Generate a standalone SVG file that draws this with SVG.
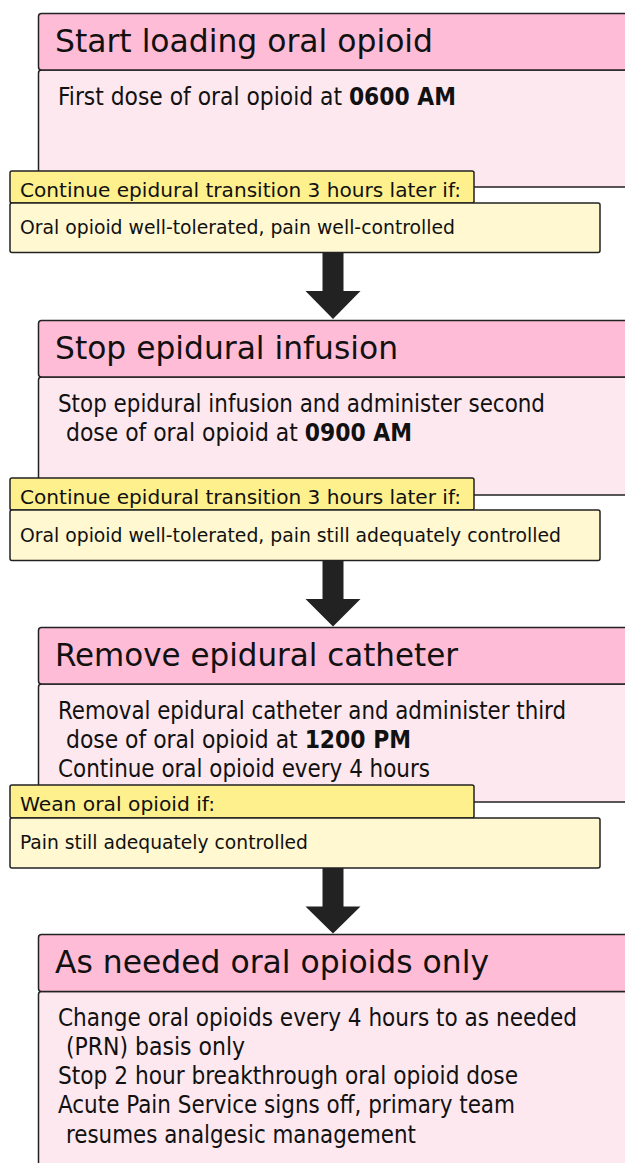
<svg xmlns="http://www.w3.org/2000/svg" width="625" height="1163" viewBox="0 0 625 1163">
<style>
text{font-family:'DejaVu Sans Condensed','DejaVu Sans',sans-serif;font-stretch:condensed;fill:#111}
.hd{fill:#FEBCD6;stroke:#222;stroke-width:1.5}
.bd{fill:#FDE8EF;stroke:#222;stroke-width:1.5}
.yl{fill:#FFF08E;stroke:#222;stroke-width:1.5}
.yb{fill:#FFF8D0;stroke:#222;stroke-width:1.5}
.ht{font-size:32px}
.bt{font-size:25px}
.yt{font-size:19.5px}
.b{font-weight:bold}
.arr{fill:#222}
</style>
<g id="step1">
<rect class="bd" x="38.5" y="70" width="620" height="117" rx="3"/>
<rect class="hd" x="38.5" y="13.5" width="620" height="56.5" rx="3"/>
<text class="ht" x="55" y="52" textLength="378" lengthAdjust="spacingAndGlyphs">Start loading oral opioid</text>
<text class="bt" x="58" y="104.5" textLength="398" lengthAdjust="spacingAndGlyphs">First dose of oral opioid at <tspan class="b">0600 AM</tspan></text>
</g>
<g id="cond1">
<rect class="yl" x="10" y="171" width="464" height="32" rx="2"/>
<rect class="yb" x="10" y="203" width="590" height="49.5" rx="2"/>
<text class="yt" x="20" y="196.5" textLength="441" lengthAdjust="spacingAndGlyphs">Continue epidural transition 3 hours later if:</text>
<text class="yt" x="20" y="234.3" textLength="435" lengthAdjust="spacingAndGlyphs">Oral opioid well-tolerated, pain well-controlled</text>
</g>
<g id="step2">
<rect class="bd" x="38.5" y="377" width="620" height="118" rx="3"/>
<rect class="hd" x="38.5" y="320.5" width="620" height="56.5" rx="3"/>
<text class="ht" x="55" y="359" textLength="343" lengthAdjust="spacingAndGlyphs">Stop epidural infusion</text>
<text class="bt" x="58" y="411.5" textLength="487" lengthAdjust="spacingAndGlyphs">Stop epidural infusion and administer second</text>
<text class="bt" x="66" y="440.5" textLength="346" lengthAdjust="spacingAndGlyphs">dose of oral opioid at <tspan class="b">0900 AM</tspan></text>
</g>
<g id="cond2">
<rect class="yl" x="10" y="478" width="464" height="32" rx="2"/>
<rect class="yb" x="10" y="510" width="590" height="50.5" rx="2"/>
<text class="yt" x="20" y="503.5" textLength="441" lengthAdjust="spacingAndGlyphs">Continue epidural transition 3 hours later if:</text>
<text class="yt" x="20" y="541.5" textLength="541" lengthAdjust="spacingAndGlyphs">Oral opioid well-tolerated, pain still adequately controlled</text>
</g>
<g id="step3">
<rect class="bd" x="38.5" y="684" width="620" height="118" rx="3"/>
<rect class="hd" x="38.5" y="627.5" width="620" height="56.5" rx="3"/>
<text class="ht" x="55" y="666" textLength="403" lengthAdjust="spacingAndGlyphs">Remove epidural catheter</text>
<text class="bt" x="58" y="718.5" textLength="508" lengthAdjust="spacingAndGlyphs">Removal epidural catheter and administer third</text>
<text class="bt" x="66" y="747.5" textLength="345" lengthAdjust="spacingAndGlyphs">dose of oral opioid at <tspan class="b">1200 PM</tspan></text>
<text class="bt" x="58" y="776.5" textLength="372" lengthAdjust="spacingAndGlyphs">Continue oral opioid every 4 hours</text>
</g>
<g id="cond3">
<rect class="yl" x="10" y="785" width="464" height="33" rx="2"/>
<rect class="yb" x="10" y="818" width="590" height="50" rx="2"/>
<text class="yt" x="20" y="810.5" textLength="195" lengthAdjust="spacingAndGlyphs">Wean oral opioid if:</text>
<text class="yt" x="20" y="848.5" textLength="288" lengthAdjust="spacingAndGlyphs">Pain still adequately controlled</text>
</g>
<g id="step4">
<rect class="bd" x="38.5" y="991.5" width="620" height="200" rx="3"/>
<rect class="hd" x="38.5" y="934.5" width="620" height="57" rx="3"/>
<text class="ht" x="55" y="973" textLength="434" lengthAdjust="spacingAndGlyphs">As needed oral opioids only</text>
<text class="bt" x="58" y="1025.5" textLength="519" lengthAdjust="spacingAndGlyphs">Change oral opioids every 4 hours to as needed</text>
<text class="bt" x="66" y="1054.8" textLength="179" lengthAdjust="spacingAndGlyphs">(PRN) basis only</text>
<text class="bt" x="58" y="1084.1" textLength="460" lengthAdjust="spacingAndGlyphs">Stop 2 hour breakthrough oral opioid dose</text>
<text class="bt" x="58" y="1113.4" textLength="457" lengthAdjust="spacingAndGlyphs">Acute Pain Service signs off, primary team</text>
<text class="bt" x="66" y="1142.7" textLength="350" lengthAdjust="spacingAndGlyphs">resumes analgesic management</text>
</g>
<g id="connectors">
<path class="arr" d="M322.5 252.5 H343.5 V291 H360.5 L333 319 L305.5 291 H322.5 Z"/>
<path class="arr" d="M322.5 560.5 H343.5 V599 H360.5 L333 626.5 L305.5 599 H322.5 Z"/>
<path class="arr" d="M322.5 868 H343.5 V906.5 H360.5 L333 933.5 L305.5 906.5 H322.5 Z"/>
</g>
</svg>
